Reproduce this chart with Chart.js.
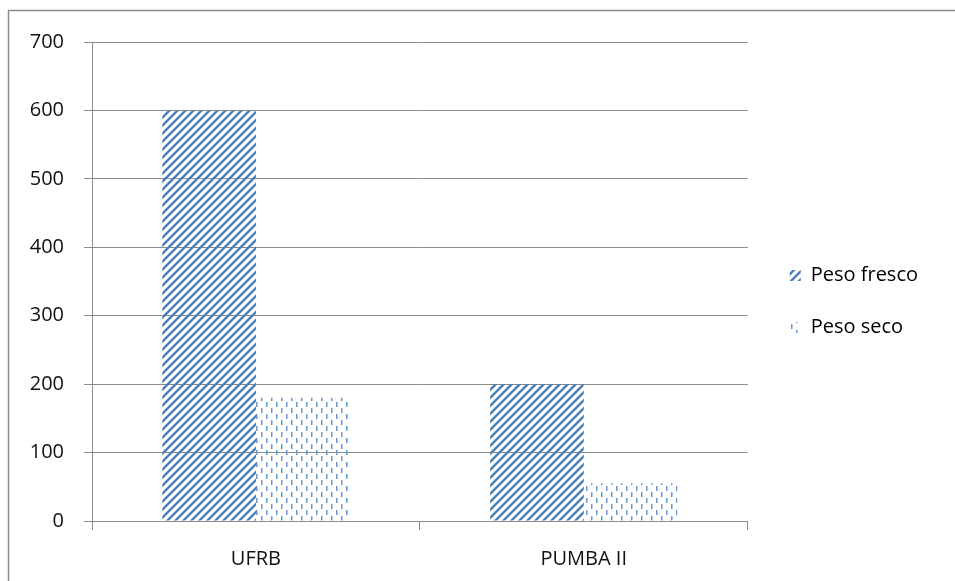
<!DOCTYPE html>
<html>
<head>
<meta charset="utf-8">
<script src="https://cdn.jsdelivr.net/npm/chart.js@4"></script>
<style>
  html, body { margin: 0; padding: 0; background: #fff; }
  #wrap { width: 955px; height: 581px; position: relative; }
</style>
</head>
<body>
<div id="wrap"><canvas id="chart" width="955" height="581"></canvas></div>
<script>
"use strict"

const categories = ["UFRB", "PUMBA II"];
const pesoFresco = [600, 200];
const pesoSeco = [180, 55];
const seriesNames = ["Peso fresco", "Peso seco"];
const yTicks = [0, 100, 200, 300, 400, 500, 600, 700];

const FONT = "'Open Sans', 'DejaVu Sans', sans-serif";
const GRID = "#8c8c8c";
const TEXT = "#111";

// diagonal "/" stripes
function stripePattern() {
    const c = document.createElement("canvas");
    c.width = 8; c.height = 8;
    const g = c.getContext("2d");
    g.strokeStyle = "#4a7ebb";
    g.lineWidth = 2.4;
    g.beginPath();
    g.moveTo(-2, 10); g.lineTo(10, -2);
    g.moveTo(-2, 2); g.lineTo(2, -2);
    g.moveTo(6, 10); g.lineTo(10, 6);
    g.stroke();
    return g.createPattern(c, "repeat");
}

// vertical dashed lines, offset every other column
function dashPattern() {
    const c = document.createElement("canvas");
    c.width = 10; c.height = 12;
    const g = c.getContext("2d");
    g.fillStyle = "#6b98cf";
    g.fillRect(1, 0, 1.5, 5);
    g.fillRect(6, 6, 1.5, 5);
    return g.createPattern(c, "repeat");
}

const fresco = stripePattern();
const seco = dashPattern();

// outer frame like the spreadsheet chart area
const framePlugin = {
    id: "frame",
    afterLayout(chart) {
        // nudge the legend a bit right and up
        const lg = chart.legend;
        lg.left += 10; lg.right += 10;
        lg.top -= 10; lg.bottom -= 10;
    },
    afterDraw(chart) {
        const ctx = chart.ctx;
        ctx.save();
        ctx.strokeStyle = "#8c8c8c";
        ctx.lineWidth = 1.5;
        ctx.strokeRect(8.5, 10.5, 1000, 1000);
        ctx.restore();
    }
};

new Chart(document.getElementById("chart"), {
    type: "bar",
    data: {
        labels: categories,
        datasets: [
            { label: seriesNames[0], data: pesoFresco, backgroundColor: fresco, borderWidth: 0 },
            { label: seriesNames[1], data: pesoSeco, backgroundColor: seco, borderWidth: 0 }
        ]
    },
    plugins: [framePlugin],
    options: {
        responsive: false,
        animation: false,
        layout: { padding: { left: 0, top: 42, right: 37, bottom: 0 } },
        datasets: {
            bar: { categoryPercentage: 0.571, barPercentage: 1.0 }
        },
        plugins: {
            tooltip: { enabled: false },
            legend: {
                position: "right",
                labels: {
                    font: { family: FONT, size: 20 },
                    color: TEXT,
                    boxWidth: 11,
                    boxHeight: 11,
                    padding: 32,
                    generateLabels(chart) {
                        return chart.data.datasets.map((ds, i) => ({
                            text: ds.label,
                            fillStyle: ds.backgroundColor,
                            strokeStyle: "rgba(0,0,0,0)",
                            lineWidth: 0,
                            datasetIndex: i,
                            hidden: false
                        }));
                    }
                }
            }
        },
        scales: {
            x: {
                afterFit(s) { s.height = 60; },
                grid: { offset: true, drawOnChartArea: false, tickLength: 9, color: GRID },
                border: { color: GRID },
                ticks: { font: { family: FONT, size: 20 }, color: TEXT, padding: 17 }
            },
            y: {
                min: 0,
                max: 700,
                afterFit(s) { s.width = 92; },
                afterBuildTicks(s) { s.ticks = yTicks.map(v => ({ value: v })); },
                grid: { color: GRID, tickLength: 8 },
                border: { color: GRID },
                ticks: { font: { family: FONT, size: 20 }, color: TEXT, padding: 20 }
            }
        }
    }
});
</script>
</body>
</html>
